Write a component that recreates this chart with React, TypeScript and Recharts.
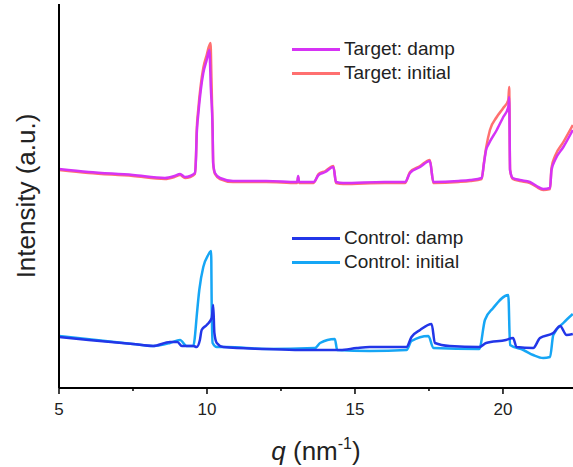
import React from "react";
import { LineChart, Line, XAxis, YAxis } from "recharts";

// q (nm^-1) positions and intensities (a.u.)
const qTargetDamp = [5.0, 6.0, 7.5, 8.58, 8.9, 9.09, 9.26, 9.43, 9.59, 9.63, 9.65, 9.71, 9.79, 9.875, 9.99, 10.08, 10.13, 10.19, 10.21, 10.27, 10.44, 10.88, 12.0, 13.05, 13.08, 13.11, 13.6, 13.77, 14.0, 14.27, 14.36, 14.6, 16.0, 16.69, 16.86, 17.2, 17.53, 17.65, 18.5, 18.89, 19.28, 19.36, 19.43, 19.5, 19.79, 20.01, 20.18, 20.21, 20.24, 20.33, 20.57, 20.91, 21.14, 21.36, 21.59, 21.64, 21.76, 22.04, 22.36];
const targetDamp = [219, 216, 213, 210, 212, 214, 211, 212, 215, 231, 251, 275, 298, 315, 328, 338, 300, 258, 225, 215, 210, 207, 207, 206, 212, 206, 206, 213, 216, 221, 206, 205, 206, 206, 215, 221, 227, 206, 207, 208, 210, 225, 238, 243, 258, 271, 281, 291, 218, 210, 208, 206, 202, 199, 200, 218, 228, 241, 258];

const qTargetInitial = [5.0, 6.0, 7.5, 8.58, 8.9, 9.09, 9.26, 9.43, 9.59, 9.63, 9.65, 9.71, 9.79, 9.875, 9.99, 10.12, 10.15, 10.19, 10.21, 10.27, 10.44, 10.88, 12.0, 13.05, 13.08, 13.11, 13.6, 13.77, 14.0, 14.27, 14.36, 14.6, 16.0, 16.69, 16.86, 17.2, 17.53, 17.65, 18.5, 18.89, 19.28, 19.36, 19.43, 19.56, 19.79, 20.01, 20.18, 20.21, 20.24, 20.33, 20.57, 20.91, 21.14, 21.36, 21.59, 21.64, 21.76, 22.04, 22.36];
const targetInitial = [218, 215, 212, 209, 211, 213, 210, 211, 214, 233, 255, 280, 303, 320, 333, 345, 310, 258, 224, 214, 209, 206, 206, 205, 211, 205, 205, 214, 217, 222, 205, 204, 205, 205, 216, 222, 228, 205, 206, 207, 209, 226, 240, 258, 271, 280, 288, 301, 218, 209, 207, 205, 201, 198, 199, 220, 232, 246, 263];

const qControlDamp = [5.0, 6.0, 7.5, 8.18, 8.75, 9.0, 9.15, 9.54, 9.65, 9.76, 9.82, 9.99, 10.16, 10.21, 10.25, 10.33, 10.55, 12.0, 13.14, 14.5, 15.06, 15.5, 16.74, 16.91, 17.2, 17.59, 17.7, 18.2, 19.2, 19.43, 20.1, 20.34, 20.46, 21.02, 21.25, 21.7, 21.93, 22.15, 22.36];
const controlDamp = [51, 48, 44, 42, 46, 46, 42, 42, 41, 48, 58, 63, 70, 83, 55, 45, 41, 39, 38, 38, 40, 41, 41, 51, 58, 64, 45, 42, 41, 45, 48, 50, 41, 40, 50, 55, 62, 53, 54];

const qControlInitial = [5.0, 7.5, 8.18, 8.75, 9.09, 9.31, 9.54, 9.59, 9.65, 9.74, 9.875, 10.04, 10.14, 10.16, 10.19, 10.33, 10.67, 12.0, 13.65, 13.82, 14.32, 14.4, 15.5, 16.74, 16.91, 17.48, 17.65, 19.2, 19.39, 19.67, 20.18, 20.24, 20.69, 21.02, 21.36, 21.59, 21.7, 22.04, 22.36];
const controlInitial = [52, 44, 42, 45, 48, 42, 42, 51, 71, 98, 121, 133, 137, 81, 45, 41, 41, 39, 40, 45, 49, 38, 37, 38, 47, 52, 40, 39, 68, 80, 93, 43, 38, 33, 30, 31, 53, 65, 74];

const xTicks = [5, 7.5, 10, 12.5, 15, 17.5, 20];

const colors = {
  targetDamp: "#d633f5",
  targetInitial: "#ff7070",
  controlDamp: "#2236e8",
  controlInitial: "#16a6f5",
};

const zip = (q: number[], v: number[]) => q.map((x, i) => ({ q: x, v: v[i] }));

const FONT = "'Liberation Sans', Arial, sans-serif";

const QTick = (props: any) => {
  const { x, y, payload } = props;
  const major = payload.value % 5 === 0;
  return (
    <g>
      <line x1={x} x2={x} y1={y} y2={y + (major ? 6 : 3)} stroke="#000" strokeWidth={1.5} />
      {major && (
        <text x={x} y={y + 27} textAnchor="middle" fontSize={17} fill="#222" fontFamily={FONT}>
          {payload.value}
        </text>
      )}
    </g>
  );
};

const legendRows = [
  { name: "Target: damp", color: colors.targetDamp, top: 49 },
  { name: "Target: initial", color: colors.targetInitial, top: 73 },
  { name: "Control: damp", color: colors.controlDamp, top: 238 },
  { name: "Control: initial", color: colors.controlInitial, top: 262 },
];

export default function App() {
  return (
    <div style={{ position: "fixed", left: 0, top: 0, width: 573, height: 467, overflow: "hidden", background: "#fff", fontFamily: FONT }}>
      <LineChart width={580} height={467} margin={{ top: 4, right: 6, left: 0, bottom: 0 }}>
        <XAxis
          dataKey="q"
          type="number"
          domain={[5, 22.4]}
          allowDataOverflow
          ticks={xTicks}
          interval={0}
          tickLine={false}
          tickSize={0}
          tickMargin={0}
          tick={<QTick />}
          height={79}
          axisLine={{ stroke: "#000", strokeWidth: 2 }}
          label={{
            content: () => (
              <text x={316} y={460} textAnchor="middle" fontSize={26} fill="#222" fontFamily={FONT}>
                <tspan fontStyle="italic">q</tspan>
                <tspan> (nm</tspan>
                <tspan fontSize={16} dy={-11}>-1</tspan>
                <tspan dy={11}>)</tspan>
              </text>
            ),
          }}
        />
        <XAxis
          xAxisId="top"
          orientation="top"
          type="number"
          domain={[5, 22.4]}
          height={0}
          tick={false}
          tickLine={false}
          axisLine={{ stroke: "#000", strokeWidth: 2 }}
        />
        <YAxis
          type="number"
          domain={[0, 384]}
          width={59}
          tick={false}
          tickLine={false}
          axisLine={{ stroke: "#000", strokeWidth: 2 }}
          label={{
            content: () => (
              <text x={35} y={196} transform="rotate(-90, 35, 196)" textAnchor="middle" fontSize={26} fill="#222" fontFamily={FONT}>
                Intensity (a.u.)
              </text>
            ),
          }}
        />
        <Line data={zip(qTargetInitial, targetInitial)} dataKey="v" type="monotone" stroke={colors.targetInitial} strokeWidth={2.5} dot={false} isAnimationActive={false} />
        <Line data={zip(qTargetDamp, targetDamp)} dataKey="v" type="monotone" stroke={colors.targetDamp} strokeWidth={2.5} dot={false} isAnimationActive={false} />
        <Line data={zip(qControlInitial, controlInitial)} dataKey="v" type="monotone" stroke={colors.controlInitial} strokeWidth={2.5} dot={false} isAnimationActive={false} />
        <Line data={zip(qControlDamp, controlDamp)} dataKey="v" type="monotone" stroke={colors.controlDamp} strokeWidth={2.5} dot={false} isAnimationActive={false} />
      </LineChart>
      {legendRows.map((r) => (
        <div key={r.name} style={{ position: "absolute", left: 292, top: r.top - 12, height: 24, display: "flex", alignItems: "center" }}>
          <div style={{ width: 48, height: 3, background: r.color }} />
          <span style={{ marginLeft: 4, fontSize: 19, color: "#222", lineHeight: "24px" }}>{r.name}</span>
        </div>
      ))}
    </div>
  );
}
